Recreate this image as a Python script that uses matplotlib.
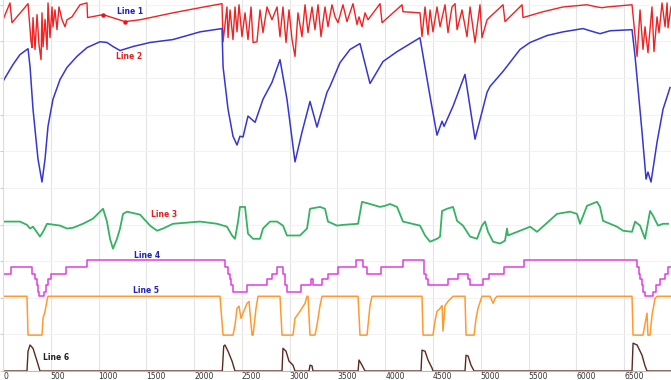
import matplotlib.pyplot as plt

# Line 1 (red, top band)
line1_x = [0, 73, 94, 262, 293, 304, 314, 335, 356, 377, 398, 408, 419, 440, 461, 471, 492, 513, 523, 544,
           565, 586, 618, 649, 670, 722, 806, 879, 885, 1047, 1277, 1434, 1779, 2062, 2292,
           2303, 2344, 2355, 2376, 2407, 2428, 2449, 2470, 2501, 2533, 2564, 2596, 2617, 2658, 2690, 2721,
           2763, 2815, 2868, 2899, 2930, 2962, 2993, 3025, 3056, 3087, 3129, 3161, 3192, 3234, 3265, 3297,
           3328, 3370, 3401, 3443, 3475, 3506, 3558, 3600, 3663, 3705, 3726, 3757, 3789, 3820, 3946, 3967,
           4176, 4186, 4364, 4385, 4417, 4448, 4469, 4500, 4542, 4574, 4626, 4657, 4699, 4731, 4752, 4804,
           4856, 4888, 4940, 4992, 5013, 5066, 5097, 5233, 5254, 5432, 5442, 5652, 5861, 6112, 6217, 6269,
           6322, 6583, 6636, 6667, 6698, 6719, 6750, 6792, 6813, 6845, 6866, 6897, 6929, 6950, 6960, 6991]
line1_y = [95.9, 100.5, 95.1, 100.3, 90.0, 88.3, 96.5, 87.8, 97.3, 89.0, 85.0, 97.8, 88.5, 96.0, 87.8, 100.5, 91.0, 99.4, 94.0, 98.6,
           93.2, 99.4, 95.9, 94.0, 95.9, 96.7, 100.0, 100.5, 96.5, 97.3, 95.4, 95.9, 97.8, 99.2, 100.3,
           89.9, 99.4, 91.0, 98.6, 90.5, 99.4, 92.6, 100.0, 91.3, 97.8, 90.5, 99.4, 89.7, 89.9, 98.6, 92.4,
           99.4, 95.9, 99.4, 91.3, 99.4, 89.7, 98.6, 90.5, 85.9, 97.8, 91.3, 100.0, 92.4, 99.4, 93.2, 100.0,
           91.3, 99.4, 94.0, 100.0, 96.7, 95.1, 100.0, 95.4, 100.3, 94.6, 96.7, 94.0, 97.8, 95.9, 100.3, 95.1,
           100.0, 98.1, 97.8, 91.3, 99.4, 91.8, 98.6, 92.6, 99.4, 94.0, 100.0, 92.4, 99.4, 100.3, 93.2, 98.6,
           91.3, 99.4, 89.7, 100.0, 91.0, 95.9, 96.7, 100.0, 95.4, 100.0, 96.5, 98.1, 99.4, 100.0, 99.4, 99.2,
           99.4, 100.0, 85.9, 98.6, 87.8, 94.0, 86.9, 99.4, 87.2, 96.7, 92.4, 100.5, 94.0, 100.5, 93.7, 99.4]

# Line 2 (blue)
line2_x = [0, 105, 178, 262, 283, 314, 366, 408, 440, 471, 523, 597, 670, 774, 879, 1015, 1088, 1151, 1225,
           1361, 1539, 1779, 2062, 2292, 2303, 2355, 2407, 2449, 2480, 2512, 2564, 2638, 2721, 2815, 2899,
           2972, 3056, 3129, 3213, 3286, 3391, 3422, 3527, 3632, 3736, 3841, 3977, 4124, 4364, 4469, 4542,
           4595, 4616, 4710, 4835, 4940, 5066, 5097, 5233, 5411, 5516, 5694, 5861, 6070, 6144, 6248, 6353,
           6583, 6615, 6688, 6730, 6750, 6782, 6845, 6908, 6981]
line2_y = [79.1, 83.7, 86.4, 88.0, 83.1, 71.5, 57.9, 51.6, 57.9, 66.8, 74.2, 79.6, 82.9, 85.9, 88.3, 89.9, 89.7, 88.6, 87.5,
           88.6, 89.7, 90.5, 92.6, 93.5, 83.1, 71.5, 64.1, 61.7, 64.1, 63.9, 69.6, 67.9, 74.2, 78.8, 85.0,
           74.2, 57.1, 65.2, 73.6, 66.6, 76.1, 77.7, 84.2, 87.8, 89.4, 78.5, 84.5, 87.2, 91.0, 75.0, 64.4,
           68.2, 66.8, 72.3, 81.0, 63.3, 76.1, 77.7, 81.8, 87.8, 89.7, 91.6, 92.6, 93.5, 92.9, 92.1, 92.9,
           93.2, 85.9, 65.2, 52.4, 54.3, 51.6, 62.5, 71.5, 77.4]

# Line 3 (green)
line3_x = [0, 178, 251, 283, 314, 387, 419, 461, 597, 670, 733, 837, 942, 1015, 1047, 1088, 1120, 1151, 1193,
           1225, 1256, 1298, 1434, 1539, 1612, 1675, 1779, 2062, 2240, 2344, 2397, 2428, 2460, 2480, 2533,
           2564, 2617, 2690, 2721, 2794, 2868, 2930, 2972, 3108, 3182, 3213, 3318, 3370, 3401, 3496, 3558,
           3716, 3757, 3841, 3946, 3998, 4050, 4124, 4186, 4364, 4417, 4469, 4542, 4574, 4595, 4647, 4710,
           4752, 4814, 4888, 4961, 5013, 5045, 5076, 5129, 5202, 5254, 5275, 5285, 5411, 5516, 5589, 5798,
           5934, 6007, 6039, 6112, 6217, 6248, 6280, 6426, 6489, 6583, 6615, 6667, 6719, 6772, 6803, 6855,
           6908, 6960]
line3_y = [40.8, 40.8, 39.9, 38.9, 39.4, 36.7, 38.0, 40.2, 39.7, 38.9, 39.1, 40.2, 41.6, 43.5, 44.3, 40.8, 36.1, 33.4, 36.1,
           38.9, 42.9, 43.5, 42.7, 39.7, 38.3, 38.9, 40.2, 40.8, 40.2, 39.4, 37.0, 36.1, 40.8, 44.8, 44.8,
           37.5, 36.1, 36.1, 38.9, 40.8, 40.8, 39.7, 37.0, 37.0, 38.9, 44.3, 44.8, 44.3, 40.8, 39.7, 39.9,
           40.2, 46.2, 45.6, 44.8, 45.1, 45.6, 44.8, 40.8, 39.7, 37.0, 35.3, 36.1, 36.7, 43.7, 44.3, 44.8,
           41.0, 39.7, 36.7, 36.1, 39.7, 40.8, 38.0, 35.3, 34.8, 35.6, 38.9, 37.0, 38.3, 39.4, 38.0, 42.9,
           43.5, 42.9, 40.2, 45.1, 46.2, 44.8, 41.0, 39.4, 38.3, 38.0, 40.8, 39.7, 36.1, 43.7, 42.4, 39.7,
           40.2, 40.2]

# Line 4 (magenta, stepped)
line4_x = [0, 84, 304, 335, 356, 366, 377, 429, 450, 471, 502, 659, 879, 2323, 2355, 2376, 2386, 2407, 2554,
           2763, 2820, 2868, 2930, 2951, 2972, 3119, 3224, 3244, 3339, 3401, 3506, 3695, 3768, 3810, 3956,
           4186, 4406, 4427, 4448, 4657, 4762, 4867, 4888, 5024, 5087, 5244, 5453, 6636, 6657, 6667, 6688,
           6698, 6719, 6803, 6834, 6876, 6929, 6960, 6991]
line4_y = [26.6, 28.4, 26.6, 25.0, 23.4, 21.7, 20.4, 21.7, 23.4, 25.0, 26.6, 28.4, 30.2, 28.4, 26.6, 25.0, 23.4, 21.7, 23.4,
           25.0, 26.6, 28.4, 26.6, 23.4, 21.7, 23.4, 25.0, 23.4, 25.0, 26.6, 28.4, 30.2, 28.4, 26.6, 28.4,
           30.2, 26.6, 25.0, 23.4, 25.0, 26.6, 25.0, 23.4, 25.0, 26.6, 28.4, 30.2, 28.4, 26.6, 25.0, 23.4,
           21.7, 20.4, 21.7, 23.4, 25.0, 26.6, 28.4, 28.4]

# Line 5 (orange)
line5_x = [0, 251, 262, 408, 419, 440, 461, 471, 2271, 2303, 2407, 2428, 2449, 2470, 2491, 2512, 2554, 2575,
           2606, 2617, 2648, 2669, 2899, 2920, 3035, 3056, 3108, 3161, 3182, 3192, 3213, 3265, 3286, 3318,
           3339, 3716, 3736, 3810, 3841, 3862, 4385, 4396, 4500, 4521, 4542, 4574, 4595, 4605, 4626, 4657,
           4710, 4835, 4846, 4930, 4951, 4971, 5013, 5097, 5129, 5150, 5170, 6583, 6594, 6698, 6740, 6750,
           6772, 6792, 6824, 6845, 6991]
line5_y = [20.4, 20.4, 9.8, 9.8, 14.4, 16.3, 19.3, 20.4, 20.4, 9.8, 9.8, 12.5, 17.1, 17.7, 14.4, 15.8, 18.5, 19.0,
           9.8, 9.8, 17.1, 20.4, 20.4, 9.8, 9.8, 14.4, 16.3, 18.5, 20.4, 20.4, 9.8, 9.8, 12.5, 17.9,
           20.4, 20.4, 9.8, 9.8, 17.9, 20.4, 20.4, 9.8, 9.8, 13.6, 16.3, 17.1, 17.9, 10.9, 17.9, 19.0,
           20.4, 20.4, 9.8, 9.8, 14.4, 17.1, 20.4, 20.4, 18.5, 19.8, 20.4, 20.4, 9.8, 9.8, 15.8, 9.8,
           9.8, 15.2, 19.8, 20.4, 20.4]

# Line 6 (brown, bottom)
line6_x = [0, 251, 262, 283, 314, 356, 387, 2295, 2310, 2323, 2355, 2397, 2428, 2920, 2930, 2962, 2993, 3035,
           3056, 3203, 3213, 3234, 3244, 3716, 3726, 3757, 3789, 4375, 4385, 4417, 4448, 4490, 4500, 4835,
           4846, 4867, 4898, 4930, 6583, 6594, 6636, 6688, 6719, 6740, 6991]
line6_y = [0, 0, 5.4, 7.1, 6.2, 2.7, 0, 0, 6.8, 7.1, 5.4, 2.7, 0, 0, 6.2, 5.4, 2.7, 1.6,
           0, 0, 1.6, 1.4, 0, 0, 3.0, 1.6, 0, 0, 5.7, 5.4, 3.0, 0.8, 0, 0,
           4.3, 4.1, 1.6, 0, 0, 7.6, 7.1, 4.3, 1.4, 0, 0]

x_ticks = list(range(0, 7000, 500))

fig = plt.figure(figsize=(6.71, 3.8), dpi=100)
ax = fig.add_axes([3 / 671, 9 / 380, 668 / 671, 371 / 380])

ax.plot(line1_x, line1_y, color='#f02222', lw=1.0)
ax.plot([1047, 1277], [97.3, 95.4], 'o', color='#e01818', ms=2.2)
ax.plot(line2_x, line2_y, color='#3636d2', lw=1.1)
ax.plot(line3_x, line3_y, color='#35b262', lw=1.3)
ax.plot(line4_x, line4_y, color='#e03ee0', lw=1.1, drawstyle='steps-post')
ax.plot(line5_x, line5_y, color='#ff9a30', lw=1.1)
ax.plot(line6_x, line6_y, color='#5a2a20', lw=1.0)

labels = [('Line 1', 1330, 98.1, '#2222c0'), ('Line 2', 1319, 85.9, '#e02020'),
          ('Line 3', 1685, 42.7, '#e02020'), ('Line 4', 1507, 31.5, '#2222c0'),
          ('Line 5', 1497, 22.0, '#2222c0'), ('Line 6', 555, 3.8, '#222222')]
for txt, lx, ly, c in labels:
    ax.text(lx, ly, txt, color=c, fontsize=5.5, fontweight='bold', ha='center', va='center')

ax.set_xlim(0, 6991)
ax.set_ylim(0, 101.3)
ax.set_xticks(x_ticks)
ax.set_xticklabels([str(t) for t in x_ticks], fontsize=5.5, color='#333333', ha='left')
ax.set_yticks(range(0, 101, 10))
ax.set_yticklabels([])
ax.tick_params(axis='x', length=0, pad=0.5)
ax.tick_params(axis='y', length=2, color='#cccccc')
ax.grid(axis='x', color='#e4e4e4', lw=0.8)
ax.grid(axis='y', color='#f2f2f2', lw=0.8)
ax.set_axisbelow(True)
for side in ['top', 'right']:
    ax.spines[side].set_visible(False)
ax.spines['left'].set_color('#dddddd')
ax.spines['bottom'].set_color('#bbbbbb')

fig.savefig('out.png', dpi=100)
